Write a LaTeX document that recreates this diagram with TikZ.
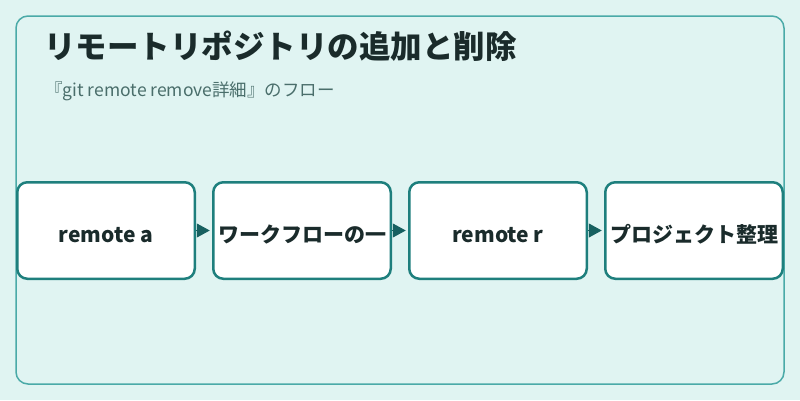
\documentclass[tikz,border=0pt]{standalone}
\usepackage{fontspec}
\setmainfont{Noto Sans CJK JP}
\usepackage{tikz}
\usetikzlibrary{arrows.meta}

\definecolor{fondo}{HTML}{E0F4F2}
\definecolor{marco}{HTML}{4AAAA8}
\definecolor{borde}{HTML}{1E7F7D}
\definecolor{flecha}{HTML}{176060}
\definecolor{texto}{HTML}{1A2B2B}
\definecolor{subtexto}{HTML}{4A6E6B}

\tikzset{
  paso/.style = {draw=borde, line width=2.5pt, fill=white, rounded corners=10pt,
    minimum width=177.5pt, minimum height=96.5pt, inner sep=0pt,
    text height=24pt, text depth=0pt,
    font=\fontsize{21}{24}\selectfont\bfseries, text=texto},
  enlace/.style = {-{Triangle[length=13pt,width=14pt]}, draw=flecha, fill=flecha,
    line width=1pt, shorten >=2.25pt}
}

\begin{document}
\begin{tikzpicture}[x=1pt, y=-1pt]
  % Fondo y marco
  \useasboundingbox[fill=fondo] (0,0) rectangle (800,400);
  \draw[marco, line width=1.5pt, fill=fondo, rounded corners=12pt] (16,16) rectangle (784,384);

  % Titulo
  \node[anchor=base west, inner sep=0pt, text=texto, font=\fontsize{31.5}{36}\selectfont\bfseries]
    (titulo) at (44,58) {リモートリポジトリの追加と削除};
  \node[anchor=base west, inner sep=0pt, text=subtexto, font=\fontsize{17.5}{21}\selectfont]
    (subtitulo) at (45,96) {『git remote remove詳細』のフロー};

  % Pasos
  \node[paso] (remoteA) at (106,230.5) {remote a};
  \node[paso] (flujo)   at (302,230.5) {ワークフローの一};
  \node[paso] (remoteR) at (498,230.5) {remote r};
  \node[paso] (orden)   at (694,230.5) {プロジェクト整理};

  % Flechas
  \draw[enlace] (remoteA.east) -- (flujo.west);
  \draw[enlace] (flujo.east) -- (remoteR.west);
  \draw[enlace] (remoteR.east) -- (orden.west);
\end{tikzpicture}
\end{document}
